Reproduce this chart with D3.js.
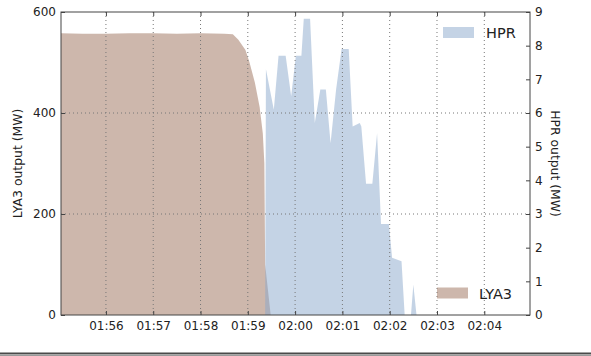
<!DOCTYPE html>
<html>
<head>
<meta charset="utf-8">
<script src="https://cdn.jsdelivr.net/npm/d3@7"></script>
<style>
  body { margin: 0; background: #fff; }
  svg { display: block; font-family: "DejaVu Sans", sans-serif; }
</style>
</head>
<body>
<svg id="chart" width="591" height="356"></svg>
<script>
// LYA3 output (MW), left axis
const lyaTimes = ["01:55:03", "01:55:30", "01:56:00", "01:56:30", "01:57:00", "01:57:30", "01:58:00", "01:58:30",
    "01:58:41", "01:58:48", "01:58:57", "01:59:02", "01:59:09", "01:59:15", "01:59:19", "01:59:21", "01:59:22", "01:59:29", "02:04:58"];
const lyaValues = [558, 557, 557, 558, 558, 557, 558, 557,
    556, 545, 525, 501, 460, 412, 360, 300, 100, 0, 0];

// HPR output (MW), right axis
const hprTimes = ["01:59:22", "01:59:23", "01:59:33", "01:59:39", "01:59:48", "01:59:55", "02:00:01", "02:00:08",
    "02:00:11", "02:00:19", "02:00:25", "02:00:32", "02:00:39", "02:00:45", "02:00:52", "02:00:59", "02:01:08",
    "02:01:13", "02:01:22", "02:01:24", "02:01:30", "02:01:38", "02:01:44", "02:01:49", "02:01:59", "02:02:03",
    "02:02:15", "02:02:19", "02:02:27", "02:02:30", "02:02:34"];
const hprValues = [0, 7.3, 6.1, 7.7, 7.7, 6.5, 7.7, 7.7,
    8.8, 8.8, 5.7, 6.7, 6.7, 5.1, 6.7, 7.9, 7.9,
    5.6, 5.7, 5.6, 3.9, 3.9, 5.4, 2.7, 2.7, 1.7,
    1.6, 0, 0, 0.9, 0];

const leftTicks = [0, 200, 400, 600];
const rightTicks = [0, 1, 2, 3, 4, 5, 6, 7, 8, 9];
const timeStart = "01:55:03";
const timeEnd = "02:04:58";

const parse = d3.timeParse("%H:%M:%S");
const svg = d3.select("#chart");
const margin = {left: 61, right: 61, top: 12, bottom: 41};
const width = 591 - margin.left - margin.right;
const height = 356 - margin.top - margin.bottom;

const x = d3.scaleTime().domain([parse(timeStart), parse(timeEnd)]).range([0, width]);
const yL = d3.scaleLinear().domain([0, 600]).range([height, 0]);
const yR = d3.scaleLinear().domain([0, 9]).range([height, 0]);

const g = svg.append("g").attr("transform", "translate(" + margin.left + "," + margin.top + ")");

g.append("clipPath").attr("id", "clip")
    .append("rect").attr("width", width).attr("height", height);

const lya = lyaTimes.map((t, i) => ({t: parse(t), v: lyaValues[i]}));
const hpr = hprTimes.map((t, i) => ({t: parse(t), v: hprValues[i]}));

const plot = g.append("g").attr("clip-path", "url(#clip)");

plot.append("path")
    .datum(lya)
    .attr("fill", "#9c6f5a")
    .attr("fill-opacity", 0.5)
    .attr("d", d3.area().x(d => x(d.t)).y0(height).y1(d => yL(d.v)));

plot.append("path")
    .datum(hpr)
    .attr("fill", "#8aa8cb")
    .attr("fill-opacity", 0.5)
    .attr("d", d3.area().x(d => x(d.t)).y0(height).y1(d => yR(d.v)));

// grid
const xTicks = x.ticks(d3.timeMinute.every(1));
g.append("g").selectAll("line").data(xTicks).enter().append("line")
    .attr("x1", d => x(d)).attr("x2", d => x(d))
    .attr("y1", 0).attr("y2", height)
    .attr("stroke", "#777").attr("stroke-dasharray", "1,3");
g.append("g").selectAll("line").data(leftTicks.slice(1, -1)).enter().append("line")
    .attr("x1", 0).attr("x2", width)
    .attr("y1", d => yL(d)).attr("y2", d => yL(d))
    .attr("stroke", "#777").attr("stroke-dasharray", "1,3");

// axes
const fmt = d3.timeFormat("%H:%M");
const xAxis = g.append("g").attr("transform", "translate(0," + height + ")")
    .call(d3.axisBottom(x).tickValues(xTicks).tickFormat(fmt).tickSize(-4).tickPadding(6));
const xTop = g.append("g")
    .call(d3.axisTop(x).tickValues(xTicks).tickFormat("").tickSize(-4));
const yAxisL = g.append("g")
    .call(d3.axisLeft(yL).tickValues(leftTicks).tickSize(-4).tickPadding(5));
const yAxisR = g.append("g").attr("transform", "translate(" + width + ",0)")
    .call(d3.axisRight(yR).tickValues(rightTicks).tickSize(-4).tickPadding(5));

[xAxis, xTop, yAxisL, yAxisR].forEach(a => {
    a.select(".domain").remove();
    a.selectAll("line").attr("stroke", "#444");
    a.selectAll("text").attr("fill", "#222").style("font-size", "12px").style("font-family", "DejaVu Sans");
});

g.append("rect")
    .attr("width", width).attr("height", height)
    .attr("fill", "none").attr("stroke", "#444").attr("stroke-width", 1);

// axis titles
svg.append("text")
    .attr("transform", "translate(22," + (margin.top + height / 2) + ") rotate(-90)")
    .attr("text-anchor", "middle")
    .style("font-size", "12.4px").attr("fill", "#222")
    .text("LYA3 output (MW)");
svg.append("text")
    .attr("transform", "translate(551," + (margin.top + height / 2) + ") rotate(90)")
    .attr("text-anchor", "middle")
    .style("font-size", "12.4px").attr("fill", "#222")
    .text("HPR output (MW)");

// legends
const legends = [
    {label: "HPR", color: "#8aa8cb", x: 443, y: 27, tx: 486, ty: 37.5},
    {label: "LYA3", color: "#9c6f5a", x: 437, y: 287.5, tx: 479, ty: 299}
];
legends.forEach(l => {
    svg.append("rect").attr("x", l.x).attr("y", l.y).attr("width", 31).attr("height", 11)
        .attr("fill", l.color).attr("fill-opacity", 0.5);
    svg.append("text").attr("x", l.tx).attr("y", l.ty)
        .style("font-size", "14.5px").attr("fill", "#222").text(l.label);
});

// bottom strip of the screenshot
svg.append("rect").attr("x", 0).attr("y", 352.5).attr("width", 591).attr("height", 1.8).attr("fill", "#4a4a4a");
svg.append("rect").attr("x", 0).attr("y", 354.3).attr("width", 591).attr("height", 1.7).attr("fill", "#9a9a9a");
</script>
</body>
</html>
